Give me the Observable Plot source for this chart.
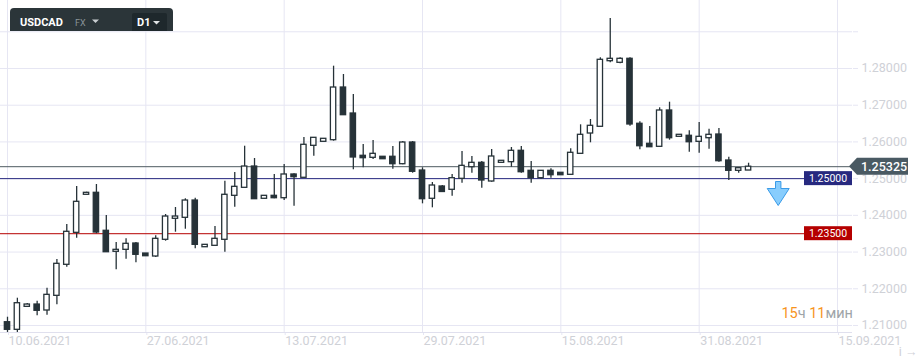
<!DOCTYPE html>
<html><head><meta charset="utf-8">
<script src="https://cdn.jsdelivr.net/npm/d3@7"></script>
<script src="https://cdn.jsdelivr.net/npm/@observablehq/plot@0.6"></script>
<style>body{margin:0;background:#fff;} #chart{width:920px;height:358px;}</style>
</head><body><div id="chart"></div>
<script>
const opens  = [1.21089,1.20882,1.21508,1.21571,1.21408,1.21808,1.22653,1.23524,1.24560,1.24614,1.23579,1.23007,1.23061,1.23233,1.22960,1.22879,1.23334,1.23906,1.23933,1.24404,1.23132,1.23170,1.23334,1.24532,1.24750,1.25330,1.24451,1.24532,1.24467,1.25113,1.25023,1.25894,1.26003,1.26047,1.27482,1.26774,1.25622,1.25567,1.25595,1.25595,1.25393,1.25984,1.25221,1.24451,1.24786,1.24696,1.24995,1.25311,1.25431,1.24922,1.25431,1.25448,1.25758,1.25213,1.25012,1.25213,1.25159,1.25104,1.25676,1.26229,1.26412,1.28199,1.28155,1.28264,1.26494,1.25949,1.25867,1.26856,1.26139,1.26167,1.26003,1.26101,1.26202,1.25494,1.25213,1.25221];
const highs  = [1.21225,1.21743,1.21598,1.21661,1.22015,1.22797,1.23750,1.24786,1.24630,1.24840,1.23996,1.23260,1.23361,1.23260,1.22960,1.23443,1.24023,1.24214,1.24451,1.24467,1.23197,1.23696,1.24930,1.25167,1.25883,1.25548,1.24532,1.25113,1.25385,1.25132,1.26120,1.26112,1.26085,1.28063,1.27837,1.27292,1.25930,1.26039,1.25595,1.25875,1.26011,1.26011,1.25295,1.24895,1.24813,1.25113,1.25739,1.25603,1.25467,1.25793,1.25486,1.25848,1.25875,1.25467,1.25213,1.25268,1.25159,1.25813,1.26466,1.26611,1.28292,1.29362,1.28292,1.28292,1.26548,1.26420,1.26929,1.27082,1.26194,1.26303,1.26529,1.26346,1.26366,1.25584,1.25284,1.25420];
const lows   = [1.20810,1.20810,1.21508,1.21263,1.21280,1.21563,1.22587,1.23377,1.24560,1.23497,1.22996,1.22516,1.22805,1.22707,1.22887,1.22851,1.23296,1.23541,1.23622,1.23088,1.23132,1.23170,1.22996,1.24222,1.24750,1.24440,1.24451,1.24451,1.24404,1.24249,1.25012,1.25611,1.26003,1.26020,1.26728,1.25241,1.25295,1.25521,1.25529,1.25257,1.25377,1.25148,1.24314,1.24205,1.24636,1.24521,1.24875,1.25148,1.24739,1.24903,1.25431,1.25311,1.25148,1.24875,1.24984,1.25012,1.25093,1.25104,1.25676,1.25976,1.26412,1.28155,1.28128,1.26428,1.25785,1.25856,1.25867,1.26047,1.26139,1.25720,1.25693,1.25802,1.25448,1.24949,1.25148,1.25221];
const closes = [1.20882,1.21607,1.21571,1.21400,1.21835,1.22680,1.23552,1.24369,1.24614,1.23532,1.22996,1.23061,1.23225,1.22925,1.22887,1.23361,1.23968,1.23968,1.24404,1.23197,1.23197,1.23361,1.24560,1.24777,1.25330,1.24440,1.24532,1.24467,1.25113,1.25039,1.25922,1.26112,1.26085,1.27482,1.26728,1.25576,1.25557,1.25676,1.25529,1.25393,1.25984,1.25186,1.24440,1.24813,1.24636,1.25012,1.25349,1.25431,1.24949,1.25603,1.25486,1.25758,1.25175,1.25012,1.25213,1.25093,1.25093,1.25704,1.26194,1.26439,1.28237,1.28264,1.28264,1.26475,1.25883,1.25856,1.26856,1.26101,1.26194,1.25992,1.26139,1.26194,1.25475,1.25213,1.25284,1.25325];

const xTickIndex  = [0, 14, 28, 42, 56, 70, 84];
const xTickLabels = ["10.06.2021","27.06.2021","13.07.2021","29.07.2021","15.08.2021","31.08.2021","15.09.2021"];
const yTicks = [1.21, 1.22, 1.23, 1.24, 1.25, 1.26, 1.27, 1.28, 1.29];
const yLabelMax = 1.28;
const xDomain = [-0.708, 85.518];
const yDomain = [1.20809, 1.29852];

const instrument = "USDCAD", market = "FX", timeframe = "D1";
const lastPrice = 1.25325;
const levelPrices = [1.25, 1.235];
const levelColors = ["#27297f", "#b50000"];
const signalIndex = 78, signalPrice = 1.24595;
const timerParts = [["15", "#f7941d"], ["ч ", "#9ea4a8"], ["11", "#f7941d"], ["мин", "#9ea4a8"]];

const candles = opens.map((o, i) => ({i, o, h: highs[i], l: lows[i], c: closes[i]}));
const bulls = candles.filter(d => d.c >= d.o);
const bears = candles.filter(d => d.c < d.o);
const ink = "#263238";
const grid = "#e6e6f3";
const axisText = "#cfd1d7";

const arrowSymbol = {
  draw(ctx) {
    ctx.moveTo(-2.7, -12); ctx.lineTo(2.7, -12); ctx.lineTo(2.7, -5); ctx.lineTo(11, -5);
    ctx.lineTo(0, 12); ctx.lineTo(-11, -5); ctx.lineTo(-2.7, -5); ctx.closePath();
  }
};

const chart = Plot.plot({
  width: 920, height: 358,
  marginTop: 0, marginBottom: 26, marginLeft: 0, marginRight: 68,
  style: {fontFamily: "Roboto, sans-serif", background: "white", overflow: "visible"},
  x: {type: "linear", domain: xDomain},
  y: {domain: yDomain},
  marks: [
    Plot.gridY(yTicks, {stroke: grid, strokeOpacity: 1}),
    Plot.gridX(xTickIndex, {stroke: grid, strokeOpacity: 1}),
    Plot.axisY(yTicks, {anchor: "right", tickSize: 5, tickPadding: 4, stroke: grid, fill: axisText, fontSize: 12.5,
      tickFormat: d => d > yLabelMax + 1e-9 ? "" : d.toFixed(5)}),
    Plot.axisX(xTickIndex, {anchor: "bottom", tickSize: 3, tickPadding: 1, stroke: grid, fill: axisText, fontSize: 12.5,
      textAnchor: "start", dx: 1, tickFormat: d => xTickLabels[xTickIndex.indexOf(d)]}),
    Plot.ruleY([yDomain[0]], {stroke: "#e0e0ee"}),
    Plot.ruleY([lastPrice], {stroke: "#4e5a61"}),
    Plot.ruleY([levelPrices[0]], {stroke: levelColors[0]}),
    Plot.ruleY([levelPrices[1]], {stroke: levelColors[1]}),
    Plot.ruleX(candles, {x: "i", y1: "l", y2: "h", stroke: ink, strokeWidth: 1.3}),
    Plot.rect(bulls, {x1: d => d.i - 0.27, x2: d => d.i + 0.27, y1: "o", y2: "c", fill: "white", stroke: ink, strokeWidth: 1.3}),
    Plot.rect(bears, {x1: d => d.i - 0.27, x2: d => d.i + 0.27, y1: "o", y2: "c", fill: ink, stroke: ink, strokeWidth: 1.3}),
    Plot.dot([{i: signalIndex, p: signalPrice}], {x: "i", y: "p", symbol: arrowSymbol, fill: "#88cdfd", stroke: "#3a9be8", strokeWidth: 1})
  ]
});
document.getElementById("chart").appendChild(chart);

const svg = d3.select(chart);
const ys = chart.scale("y");
const right = 920 - 68;

// level labels
levelPrices.forEach((p, k) => {
  const cy = ys.apply(p);
  svg.append("rect").attr("x", right - 48).attr("y", cy - 7).attr("width", 48).attr("height", 14).attr("fill", levelColors[k]);
  svg.append("text").attr("x", right - 24).attr("y", cy).attr("dy", "0.35em").attr("text-anchor", "middle")
    .attr("fill", "white").attr("font-size", 10.5).attr("font-family", "Roboto, sans-serif").text(p.toFixed(5));
});

// last price tag
{
  const cy = ys.apply(lastPrice);
  svg.append("path").attr("d", `M${right - 3},${cy} L${right + 5},${cy - 8.5} L${right + 56},${cy - 8.5} L${right + 56},${cy + 8.5} L${right + 5},${cy + 8.5} Z`)
    .attr("fill", "#4a5a63");
  svg.append("text").attr("x", right + 9).attr("y", cy).attr("dy", "0.36em").attr("fill", "white").attr("text-anchor", "start")
    .attr("font-size", 12.5).attr("font-weight", 500).attr("font-family", "Roboto, sans-serif").text(lastPrice.toFixed(5));
}

// header
{
  const g = svg.append("g").attr("font-family", "Roboto, sans-serif").attr("text-anchor", "start");
  g.append("path").attr("d", "M10,31 L10,12 Q10,8 14,8 L169,8 Q173,8 173,12 L173,31 Z").attr("fill", "#2b3539");
  g.append("path").attr("d", "M132,31 L132,15 Q132,13 134,13 L165,13 Q167,13 167,15 L167,31 Z").attr("fill", "#1e282c");
  g.append("text").attr("x", 20).attr("y", 26).attr("fill", "white").attr("font-size", 11).attr("font-weight", 700).text(instrument);
  g.append("text").attr("x", 75).attr("y", 26).attr("fill", "#8a9498").attr("font-size", 9).text(market);
  g.append("path").attr("d", "M92,19.5 L99,19.5 L95.5,23 Z").attr("fill", "#c9ced1");
  g.append("text").attr("x", 137).attr("y", 26).attr("fill", "white").attr("font-size", 11).attr("font-weight", 700).text(timeframe);
  g.append("path").attr("d", "M153,21 L160,21 L156.5,24.5 Z").attr("fill", "#e0e4e6");
}

// timer
{
  const t = svg.append("text").attr("x", right + 1).attr("y", ys.apply(1.21) - 7).attr("text-anchor", "end")
    .attr("font-size", 14.5).attr("font-family", "Roboto, sans-serif");
  timerParts.forEach(([s, c]) => t.append("tspan").attr("fill", c).text(s));
}
</script>
</body></html>
